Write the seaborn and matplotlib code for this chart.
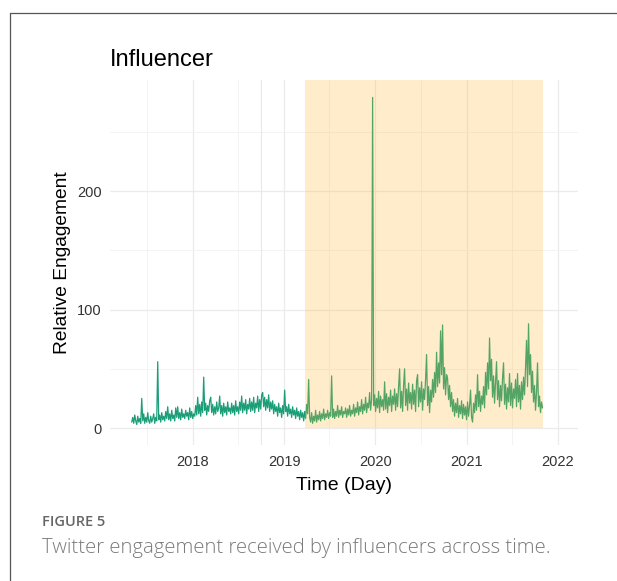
import numpy as np
import pandas as pd
import matplotlib
matplotlib.use("Agg")
import matplotlib.pyplot as plt
import matplotlib.dates as mdates
from matplotlib.lines import Line2D
from matplotlib.patches import Rectangle
import seaborn as sns

# Relative engagement of influencer tweets, one reading every 4 days
start_date = "2017-05-01"
step_days = 4
engagement = [
    5, 9, 4, 11, 6, 3, 10, 5, 8, 4, 25, 6, 12, 4, 9, 5, 13, 6, 4, 10,
    5, 8, 12, 4, 9, 6, 56, 7, 11, 5, 13, 7, 10, 6, 14, 8, 18, 7, 12, 6,
    15, 8, 11, 6, 17, 9, 18, 8, 13, 7, 16, 9, 12, 8, 15, 10, 13, 7, 17, 9,
    14, 8, 12, 10, 19, 11, 26, 12, 20, 10, 22, 13, 43, 15, 21, 11, 19, 14, 23, 26,
    13, 20, 11, 18, 12, 22, 14, 17, 27, 12, 19, 10, 21, 13, 18, 11, 22, 14, 17, 12,
    21, 13, 19, 11, 23, 14, 18, 12, 22, 15, 27, 13, 21, 15, 24, 12, 20, 16, 25, 14,
    22, 15, 26, 13, 21, 17, 27, 14, 24, 16, 28, 30, 18, 26, 15, 24, 17, 28, 14, 22,
    16, 23, 12, 20, 14, 18, 10, 21, 13, 17, 9, 19, 12, 32, 14, 18, 10, 20, 12, 16,
    9, 18, 11, 15, 8, 17, 10, 14, 7, 15, 9, 13, 6, 14, 8, 20, 12, 41, 9, 5,
    13, 4, 10, 6, 15, 5, 11, 7, 14, 6, 12, 8, 16, 7, 12, 9, 15, 8, 13, 10,
    44, 9, 16, 8, 14, 10, 19, 9, 15, 11, 18, 9, 14, 12, 17, 9, 16, 11, 19, 10,
    15, 12, 20, 10, 17, 13, 22, 11, 18, 14, 24, 12, 20, 15, 26, 13, 21, 17, 30, 15,
    24, 279, 19, 28, 14, 25, 17, 31, 13, 27, 18, 24, 15, 39, 16, 29, 13, 26, 19, 32,
    14, 27, 20, 33, 15, 29, 18, 35, 50, 17, 31, 14, 36, 50, 19, 33, 15, 38, 21, 30,
    16, 37, 20, 32, 14, 40, 45, 18, 34, 22, 39, 15, 33, 24, 41, 62, 19, 35, 13, 32,
    22, 41, 26, 47, 30, 64, 35, 55, 38, 82, 45, 87, 33, 51, 28, 45, 42, 24, 36, 18,
    30, 14, 24, 10, 21, 13, 25, 9, 19, 12, 23, 8, 20, 11, 18, 7, 22, 10, 19, 32,
    9, 5, 21, 13, 28, 15, 45, 18, 31, 14, 27, 20, 35, 17, 47, 28, 55, 33, 76, 40,
    58, 26, 44, 21, 38, 56, 24, 40, 18, 36, 23, 42, 55, 20, 37, 16, 34, 22, 46, 19,
    38, 17, 33, 25, 41, 18, 46, 22, 36, 16, 39, 24, 43, 28, 52, 74, 35, 88, 45, 62,
    30, 48, 22, 36, 15, 30, 55, 18, 27, 13, 22, 17,
]

# Study period shaded on the chart, and a marked event date
period_start = "2019-03-27"
period_end = "2021-10-31"
event_date = "2018-10-01"

year_ticks = ["2018-01-01", "2019-01-01", "2020-01-01", "2021-01-01", "2022-01-01"]
year_labels = ["2018", "2019", "2020", "2021", "2022"]
mid_year_ticks = ["2017-07-01", "2018-07-01", "2019-07-01", "2020-07-01", "2021-07-01"]
y_ticks = [0, 100, 200]
y_minor_ticks = [50, 150, 250]

df = pd.DataFrame({
    "date": pd.date_range(start_date, periods=len(engagement), freq=f"{step_days}D"),
    "engagement": engagement,
})

sns.set_theme(style="white")
plt.rcParams["font.family"] = ["Liberation Sans", "DejaVu Sans"]

fig = plt.figure(figsize=(6.17, 5.81), dpi=100)
W, H = 617, 581
ax = fig.add_axes([110 / W, 1 - 445 / H, 468 / W, 365 / H])

grid_major = "#EBEBEB"
grid_minor = "#F3F3F3"

sns.lineplot(data=df, x="date", y="engagement", ax=ax, color="#1B9E77",
             linewidth=0.9, estimator=None, zorder=3)

# event marker
ax.axvline(pd.Timestamp(event_date), color="#FCE0E0", linewidth=0.8, zorder=2)

# shaded study period, laid over the series
p0 = mdates.date2num(pd.Timestamp(period_start))
p1 = mdates.date2num(pd.Timestamp(period_end))
ax.add_patch(Rectangle((p0, 0), p1 - p0, 1000, facecolor="#FFB733", alpha=0.25,
                       edgecolor="none", zorder=4))

ax.set_xlim(pd.Timestamp("2017-02-03"), pd.Timestamp("2022-03-22"))
ax.set_ylim(-14.3, 293.7)

ax.set_xticks([pd.Timestamp(t) for t in year_ticks])
ax.set_xticklabels(year_labels)
ax.set_xticks([pd.Timestamp(t) for t in mid_year_ticks], minor=True)
ax.set_yticks(y_ticks)
ax.set_yticks(y_minor_ticks, minor=True)

ax.grid(which="major", color=grid_major, linewidth=0.9, zorder=0)
ax.grid(which="minor", color=grid_minor, linewidth=0.7, zorder=0)
ax.set_axisbelow(True)
for s in ax.spines.values():
    s.set_visible(False)
ax.tick_params(axis="both", which="both", length=0, labelsize=10.5,
               labelcolor="#333333")
ax.tick_params(axis="x", pad=7)
ax.tick_params(axis="y", pad=6)

ax.set_xlabel("Time (Day)", fontsize=14, color="black", labelpad=6)
ax.set_ylabel("Relative Engagement", fontsize=13.8, color="black", labelpad=4)
ax.set_title("Influencer", loc="left", fontsize=17, color="black", pad=10)

# figure frame and caption
fig.add_artist(Line2D([10 / W, 10 / W], [0, 1 - 13 / H], color="#555555",
                      linewidth=0.9, transform=fig.transFigure))
fig.add_artist(Line2D([10 / W, 1], [1 - 13 / H, 1 - 13 / H], color="#555555",
                      linewidth=0.9, transform=fig.transFigure))
fig.text(42 / W, 1 - 522 / H, "FIGURE 5", fontsize=10.5, color="#666666",
         family=["Open Sans", "DejaVu Sans"], weight="semibold", va="center")
fig.text(42 / W, 1 - 548 / H, "Twitter engagement received by influencers across time.",
         fontsize=14.6, color="#7A7A7A", family=["Open Sans", "DejaVu Sans"],
         weight="light", va="center")

fig.savefig("out.png", dpi=100)
